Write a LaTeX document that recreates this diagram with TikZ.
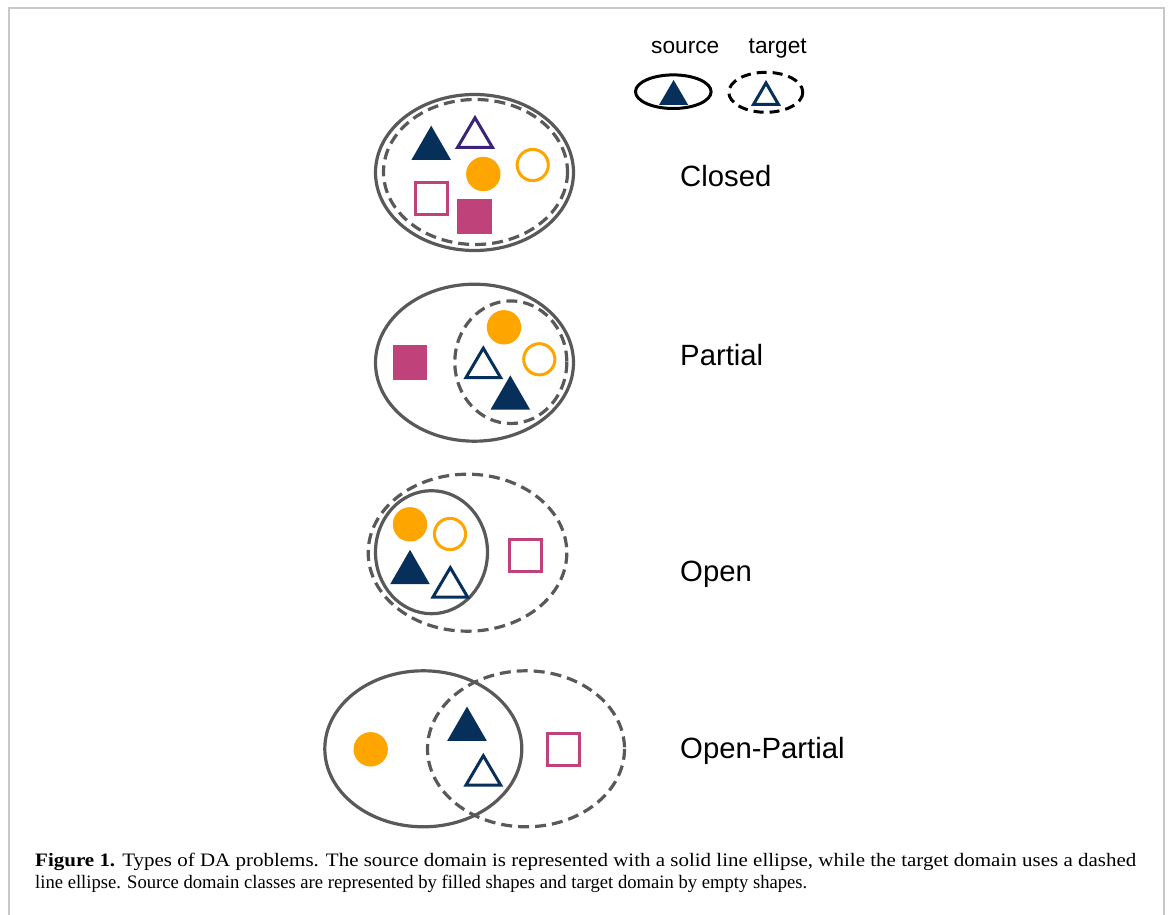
\documentclass[tikz,border=0pt]{standalone}
\usepackage{fontspec}
\setmainfont{Liberation Serif}
\newfontfamily\labfont{Liberation Sans}
\usepackage{graphicx}
\definecolor{navy}{HTML}{06305A}
\definecolor{indigo}{HTML}{3A2479}
\definecolor{orng}{HTML}{FFA500}
\definecolor{pink}{HTML}{C0427A}
\definecolor{ellgray}{HTML}{595959}
\definecolor{framegray}{HTML}{C8C8C8}
\newcommand\mytri[5]{\path[#1] ({#2},{#3-#5/2}) -- ({#2+#4},{#3+#5/2}) -- ({#2-#4},{#3+#5/2}) -- cycle;}
\newcommand\mysq[4]{\path[#1] ({#2-#4},{#3-#4}) rectangle ({#2+#4},{#3+#4});}
\newcommand\ftri[2]{\mytri{fill=navy}{#1}{#2}{19.8}{34.3}}
\newcommand\etri[3]{\mytri{draw=#3,line width=3pt}{#1}{#2+0.75}{17.4}{29.5}}
\newcommand\fcirc[2]{\fill[orng] (#1,#2) circle[radius=17.2];}
\newcommand\ecirc[2]{\draw[orng,line width=3pt] (#1,#2) circle[radius=15.6];}
\newcommand\fsq[2]{\mysq{fill=pink}{#1}{#2}{17.3}}
\newcommand\esq[2]{\mysq{draw=pink,line width=3pt}{#1}{#2}{16}}
\tikzset{
  frameline/.style={draw=framegray, line width=2pt},
  solidell/.style={draw=ellgray, line width=3.2pt},
  dashell/.style={draw=ellgray, line width=3.2pt, dash pattern=on 11pt off 6pt},
  legsolid/.style={draw=black, line width=3pt},
  legdash/.style={draw=black, line width=3pt, dash pattern=on 10pt off 6pt},
  lab/.style={anchor=base west, inner sep=0pt, font=\labfont\fontsize{29.3}{34}\selectfont},
  leglab/.style={anchor=base west, inner sep=0pt, font=\labfont\fontsize{22.7}{27}\selectfont},
  captext/.style={anchor=base west, inner sep=0pt}
}
\begin{document}
\begin{tikzpicture}[x=1pt,y=-1pt]
\useasboundingbox (0,0) rectangle (1168,915);
\fill[white] (0,0) rectangle (1168,915);
\draw[frameline] (8.5,915) -- (8.5,8.5) -- (1163.5,8.5) -- (1163.5,915);

% legend
\node[leglab] (lsrc) at (651,53.3) {source};
\node[leglab] (ltgt) at (748.5,53.3) {target};
\draw[legsolid] (673.3,91.7) ellipse[x radius=37.8, y radius=16.8];
\draw[legdash] (765.8,92.3) ellipse[x radius=37, y radius=20];
\mytri{fill=navy}{673.6}{92.5}{14.6}{25}
\mytri{draw=navy,line width=3pt}{766}{93.7}{12.5}{21.5}

% Closed
\draw[solidell] (474.5,172.5) ellipse[x radius=99, y radius=78];
\draw[dashell] (475.5,172) ellipse[x radius=92, y radius=72.5];
\ftri{431.2}{142.8}
\etri{475}{131.8}{indigo}
\fcirc{483.3}{174}
\ecirc{532.7}{165}
\esq{431.7}{198.3}
\fsq{474.7}{216.2}
\node[lab] (lclosed) at (680,186) {Closed};

% Partial
\draw[solidell] (474.5,362.7) ellipse[x radius=99, y radius=78.5];
\draw[dashell] (510.8,362.2) ellipse[x radius=56, y radius=61.3];
\fsq{409.8}{362.2}
\fcirc{504}{327.3}
\ecirc{539.3}{359.3}
\etri{483.3}{362.2}{navy}
\ftri{510.3}{392.5}
\node[lab] (lpartial) at (680,365.5) {Partial};

% Open
\draw[solidell] (431.5,552.2) ellipse[x radius=56, y radius=61.5];
\draw[dashell] (467.5,552.7) ellipse[x radius=99.3, y radius=78.5];
\fcirc{410}{524.3}
\ecirc{450}{534}
\ftri{410}{567}
\etri{450.3}{581.7}{navy}
\esq{525.5}{555.8}
\node[lab] (lopen) at (680,581) {Open};

% Open-Partial
\draw[solidell] (423.3,748.8) ellipse[x radius=98.5, y radius=78];
\draw[dashell] (526,748.8) ellipse[x radius=98.5, y radius=78];
\fcirc{370.7}{749.3}
\ftri{467}{723.7}
\etri{483.3}{769.7}{navy}
\esq{563.8}{749.2}
\node[lab] (lopenpartial) at (680,758.3) {Open-Partial};

% caption
\node[captext] (cap1) at (35,866) {\resizebox{1101pt}{\height}{\fontsize{19}{22}\selectfont\textbf{Figure 1.} Types of DA problems. The source domain is represented with a solid line ellipse, while the target domain uses a dashed}};
\node[captext] (cap2) at (35,888.5) {\resizebox{772pt}{\height}{\fontsize{19}{22}\selectfont line ellipse. Source domain classes are represented by filled shapes and target domain by empty shapes.}};
\end{tikzpicture}
\end{document}
